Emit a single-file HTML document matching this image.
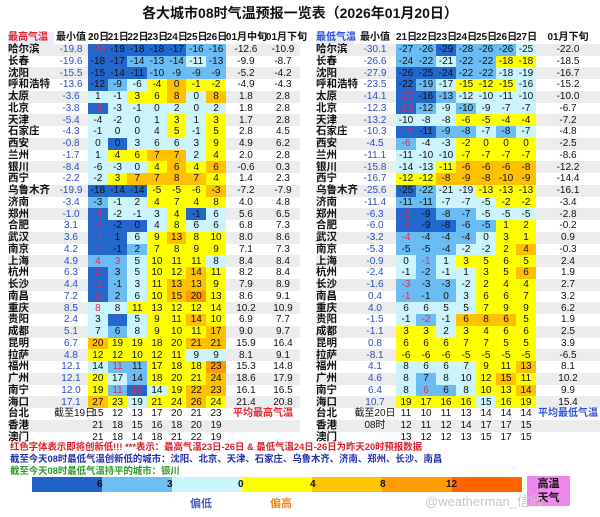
<!DOCTYPE html>
<html><head><meta charset="utf-8">
<style>
*{margin:0;padding:0;box-sizing:border-box}
body{width:600px;height:517px;background:#fff;position:relative;overflow:hidden;font-family:"Liberation Sans","Noto Sans CJK SC",sans-serif;color:#111}
.title{position:absolute;top:3px;left:0;width:600px;text-align:center;font-size:14px;font-weight:bold;line-height:20px}
table{position:absolute;border-collapse:collapse;table-layout:fixed;border-spacing:0}
td{padding:0;text-align:center;font-size:10px;height:11.75px;line-height:11px;white-space:nowrap;overflow:visible}
tr.s td{background:#ececec}
td.n{text-align:left;font-weight:bold;font-size:10.5px}
td.m{color:#2a4fc8}
tr.h td{font-weight:bold;font-size:10px;background:#fff}
tr td.d{background:#2467cc}
tr td.b{background:#6bbcf2}
tr td.c{background:#cbf4fc}
tr td.y{background:#ffff00}
tr td.g{background:#ffc000}
tr td.o{background:#ff9a00}
td.r{color:#e8265a}
.f{position:absolute;left:10px;font-size:9.4px;font-weight:bold;white-space:nowrap;line-height:12px}
.bar{position:absolute;top:477px;height:15px}
.bl{position:absolute;top:477px;font-size:10px;font-weight:bold;line-height:15px}
</style></head><body>
<div class="title">各大城市08时气温预报一览表（2026年01月20日）</div>

<table style="left:8px;top:32px;width:292px">
<colgroup><col style="width:46px"><col style="width:34px"><col style="width:19.7px"><col style="width:19.7px"><col style="width:19.7px"><col style="width:19.7px"><col style="width:19.7px"><col style="width:19.7px"><col style="width:19.8px"><col style="width:40px"><col style="width:34px"></colgroup>
<tr class="h"><td class="n" style="color:#e8202a;background:#e8eef8">最高气温</td><td>最小值</td><td>20日</td><td>21日</td><td>22日</td><td>23日</td><td>24日</td><td>25日</td><td>26日</td><td>01月中旬</td><td>01月下旬</td></tr>
<tr class="s"><td class="n">哈尔滨</td><td class="m">-19.8</td><td class="d r">-20</td><td class="d">-19</td><td class="d">-18</td><td class="d">-18</td><td class="d">-17</td><td class="b">-16</td><td class="b">-16</td><td>-12.6</td><td>-10.9</td></tr>
<tr><td class="n">长春</td><td class="m">-19.6</td><td class="d">-18</td><td class="d">-17</td><td class="b">-14</td><td class="b">-13</td><td class="b">-14</td><td class="c">-11</td><td class="b">-13</td><td>-9.9</td><td>-8.7</td></tr>
<tr class="s"><td class="n">沈阳</td><td class="m">-15.5</td><td class="d">-15</td><td class="d">-14</td><td class="d">-11</td><td class="b">-10</td><td class="b">-9</td><td class="b">-9</td><td class="b">-9</td><td>-5.2</td><td>-4.2</td></tr>
<tr><td class="n">呼和浩特</td><td class="m">-13.6</td><td class="d">-12</td><td class="b">-9</td><td class="c">-6</td><td class="y">-4</td><td class="g">0</td><td class="y">-1</td><td class="y">-2</td><td>-4.9</td><td>-4.3</td></tr>
<tr class="s"><td class="n">太原</td><td class="m">-3.6</td><td class="c">1</td><td class="c">-1</td><td class="y">3</td><td class="y">6</td><td class="g">8</td><td class="c">0</td><td class="g">8</td><td>1.8</td><td>2.8</td></tr>
<tr><td class="n">北京</td><td class="m">-3.8</td><td class="d r">-6</td><td class="c">-3</td><td class="c">-1</td><td class="c">0</td><td class="c">2</td><td class="c">0</td><td class="c">2</td><td>1.8</td><td>2.8</td></tr>
<tr class="s"><td class="n">天津</td><td class="m">-5.4</td><td class="c">-4</td><td class="c">-2</td><td class="c">0</td><td class="c">1</td><td class="y">3</td><td class="c">1</td><td class="y">3</td><td>1.7</td><td>2.8</td></tr>
<tr><td class="n">石家庄</td><td class="m">-4.3</td><td class="c">-1</td><td class="c">0</td><td class="c">0</td><td class="c">4</td><td class="y">5</td><td class="c">-1</td><td class="y">5</td><td>2.8</td><td>4.5</td></tr>
<tr class="s"><td class="n">西安</td><td class="m">-0.8</td><td class="c">0</td><td class="d">0</td><td class="c">3</td><td class="c">6</td><td class="c">6</td><td class="c">3</td><td class="y">9</td><td>4.9</td><td>6.2</td></tr>
<tr><td class="n">兰州</td><td class="m">-1.7</td><td class="c">1</td><td class="y">4</td><td class="y">6</td><td class="g">7</td><td class="g">7</td><td class="c">2</td><td class="y">4</td><td>2.0</td><td>2.8</td></tr>
<tr class="s"><td class="n">银川</td><td class="m">-8.4</td><td class="c">-6</td><td class="c">-3</td><td class="c">0</td><td class="y">4</td><td class="g">6</td><td class="y">4</td><td class="g">6</td><td>-0.6</td><td>0.3</td></tr>
<tr><td class="n">西宁</td><td class="m">-2.2</td><td class="c">-2</td><td class="y">3</td><td class="g">7</td><td class="g">7</td><td class="g">8</td><td class="g">7</td><td class="y">4</td><td>1.4</td><td>2.3</td></tr>
<tr class="s"><td class="n">乌鲁木齐</td><td class="m">-19.9</td><td class="d">-18</td><td class="d">-14</td><td class="d">-14</td><td class="y">-5</td><td class="y">-5</td><td class="y">-6</td><td class="g">-3</td><td>-7.2</td><td>-7.9</td></tr>
<tr><td class="n">济南</td><td class="m">-3.4</td><td class="b">-3</td><td class="c">-1</td><td class="c">2</td><td class="y">4</td><td class="y">7</td><td class="y">4</td><td class="y">8</td><td>4.0</td><td>4.8</td></tr>
<tr class="s"><td class="n">郑州</td><td class="m">-1.0</td><td class="d r">-4</td><td class="c">-2</td><td class="c">-1</td><td class="c">3</td><td class="y">4</td><td class="d">-1</td><td class="c">6</td><td>5.6</td><td>6.5</td></tr>
<tr><td class="n">合肥</td><td class="m">3.1</td><td class="d r">-3</td><td class="d">-2</td><td class="d">0</td><td class="c">4</td><td class="y">8</td><td class="c">6</td><td class="c">6</td><td>6.8</td><td>7.3</td></tr>
<tr class="s"><td class="n">武汉</td><td class="m">3.6</td><td class="d r">-1</td><td class="d">1</td><td class="c">6</td><td class="y">9</td><td class="g">13</td><td class="y">8</td><td class="y">10</td><td>8.0</td><td>8.6</td></tr>
<tr><td class="n">南京</td><td class="m">4.2</td><td class="d r">-1</td><td class="d">-1</td><td class="b">2</td><td class="y">7</td><td class="y">8</td><td class="y">9</td><td class="y">9</td><td>7.1</td><td>7.3</td></tr>
<tr class="s"><td class="n">上海</td><td class="m">4.9</td><td class="b r">4</td><td class="b r">3</td><td class="c">5</td><td class="y">10</td><td class="y">11</td><td class="y">11</td><td class="c">8</td><td>8.4</td><td>8.4</td></tr>
<tr><td class="n">杭州</td><td class="m">6.3</td><td class="d r">2</td><td class="b">3</td><td class="c">5</td><td class="y">10</td><td class="y">12</td><td class="g">14</td><td class="y">11</td><td>8.2</td><td>8.4</td></tr>
<tr class="s"><td class="n">长沙</td><td class="m">4.4</td><td class="d r">-1</td><td class="b">-1</td><td class="c">3</td><td class="y">11</td><td class="g">13</td><td class="g">13</td><td class="y">9</td><td>7.9</td><td>8.9</td></tr>
<tr><td class="n">南昌</td><td class="m">7.2</td><td class="d r">1</td><td class="b">2</td><td class="c">6</td><td class="y">10</td><td class="g">15</td><td class="o">20</td><td class="y">13</td><td>8.6</td><td>9.1</td></tr>
<tr class="s"><td class="n">重庆</td><td class="m">8.5</td><td class="c r">8</td><td class="c">8</td><td class="y">11</td><td class="y">13</td><td class="y">12</td><td class="y">12</td><td class="y">14</td><td>10.2</td><td>10.9</td></tr>
<tr><td class="n">贵阳</td><td class="m">2.4</td><td class="c">3</td><td class="d r">1</td><td class="c">5</td><td class="y">9</td><td class="y">11</td><td class="g">14</td><td class="y">10</td><td>6.9</td><td>7.7</td></tr>
<tr class="s"><td class="n">成都</td><td class="m">5.1</td><td class="c">7</td><td class="b">6</td><td class="c">8</td><td class="y">9</td><td class="y">10</td><td class="y">11</td><td class="g">17</td><td>9.0</td><td>9.7</td></tr>
<tr><td class="n">昆明</td><td class="m">6.7</td><td class="g">20</td><td class="y">19</td><td class="y">19</td><td class="y">18</td><td class="y">20</td><td class="g">21</td><td class="g">21</td><td>15.9</td><td>16.4</td></tr>
<tr class="s"><td class="n">拉萨</td><td class="m">4.8</td><td class="y">12</td><td class="y">12</td><td class="y">10</td><td class="y">12</td><td class="y">11</td><td class="c">9</td><td class="c">9</td><td>8.1</td><td>9.1</td></tr>
<tr><td class="n">福州</td><td class="m">12.1</td><td class="c">14</td><td class="b r">11</td><td class="b">11</td><td class="y">17</td><td class="y">18</td><td class="y">18</td><td class="o">23</td><td>15.3</td><td>14.8</td></tr>
<tr class="s"><td class="n">广州</td><td class="m">12.1</td><td class="y">20</td><td class="c">17</td><td class="b">14</td><td class="y">18</td><td class="y">20</td><td class="y">21</td><td class="g">24</td><td>18.6</td><td>17.9</td></tr>
<tr><td class="n">南宁</td><td class="m">12.0</td><td class="y">19</td><td class="b r">11</td><td class="d r">10</td><td class="c">14</td><td class="y">19</td><td class="g">22</td><td class="g">23</td><td>16.1</td><td>16.5</td></tr>
<tr class="s"><td class="n">海口</td><td class="m">17.1</td><td class="g">27</td><td class="y">23</td><td class="c">19</td><td class="y">21</td><td class="y">24</td><td class="g">26</td><td class="y">24</td><td>21.4</td><td>20.8</td></tr>
<tr><td class="n">台北</td><td>截至19日</td><td>15</td><td>12</td><td>13</td><td>17</td><td>20</td><td>21</td><td>23</td><td colspan="2" style="color:#e8202a;font-weight:bold">平均最高气温</td></tr>
<tr class="s"><td class="n">香港</td><td></td><td>21</td><td>18</td><td>15</td><td>16</td><td>18</td><td>20</td><td>19</td><td></td><td></td></tr>
<tr><td class="n">澳门</td><td></td><td>21</td><td>18</td><td>14</td><td>18</td><td>21</td><td>22</td><td>19</td><td></td><td></td></tr>
</table>

<table style="left:316px;top:32px;width:284px">
<colgroup><col style="width:38px"><col style="width:42px"><col style="width:20px"><col style="width:20px"><col style="width:20px"><col style="width:20px"><col style="width:20px"><col style="width:20px"><col style="width:20px"><col style="width:64px"></colgroup>
<tr class="h"><td class="n" style="color:#2a4fd8;background:#e8eef8">最低气温</td><td>最小值</td><td>21日</td><td>22日</td><td>23日</td><td>24日</td><td>25日</td><td>26日</td><td>27日</td><td>01月下旬</td></tr>
<tr class="s"><td class="n">哈尔滨</td><td class="m">-30.1</td><td class="b">-27</td><td class="b">-26</td><td class="d">-29</td><td class="b">-28</td><td class="b">-26</td><td class="b">-26</td><td class="c">-25</td><td>-22.0</td></tr>
<tr><td class="n">长春</td><td class="m">-26.6</td><td class="b">-24</td><td class="b">-22</td><td class="c">-21</td><td class="b">-22</td><td class="b">-22</td><td class="y">-18</td><td class="y">-18</td><td>-18.5</td></tr>
<tr class="s"><td class="n">沈阳</td><td class="m">-27.9</td><td class="d">-26</td><td class="d">-25</td><td class="d">-24</td><td class="b">-22</td><td class="b">-22</td><td class="c">-18</td><td class="c">-19</td><td>-16.7</td></tr>
<tr><td class="n">呼和浩特</td><td class="m">-23.5</td><td class="d">-22</td><td class="b">-19</td><td class="c">-17</td><td class="y">-15</td><td class="y">-12</td><td class="y">-15</td><td class="c">-16</td><td>-15.2</td></tr>
<tr class="s"><td class="n">太原</td><td class="m">-14.1</td><td class="d r">-17</td><td class="d">-16</td><td class="b">-13</td><td class="c">-12</td><td class="c">-10</td><td class="c">-11</td><td class="c">-10</td><td>-10.0</td></tr>
<tr><td class="n">北京</td><td class="m">-12.3</td><td class="d r">-13</td><td class="b">-12</td><td class="c">-9</td><td class="b">-10</td><td class="c">-9</td><td class="c">-7</td><td class="c">-7</td><td>-6.7</td></tr>
<tr class="s"><td class="n">天津</td><td class="m">-13.2</td><td class="c">-10</td><td class="c">-8</td><td class="c">-8</td><td class="y">-6</td><td class="y">-5</td><td class="y">-4</td><td class="y">-4</td><td>-7.2</td></tr>
<tr><td class="n">石家庄</td><td class="m">-10.3</td><td class="d r">-11</td><td class="d">-11</td><td class="b">-9</td><td class="b">-8</td><td class="c">-7</td><td class="b">-8</td><td class="c">-7</td><td>-4.8</td></tr>
<tr class="s"><td class="n">西安</td><td class="m">-4.5</td><td class="b r">-6</td><td class="c">-4</td><td class="c">-3</td><td class="y">-2</td><td class="y">0</td><td class="y">0</td><td class="y">0</td><td>-2.5</td></tr>
<tr><td class="n">兰州</td><td class="m">-11.1</td><td class="c">-11</td><td class="c">-10</td><td class="c">-10</td><td class="y">-7</td><td class="y">-7</td><td class="y">-7</td><td class="y">-7</td><td>-8.6</td></tr>
<tr class="s"><td class="n">银川</td><td class="m">-15.8</td><td class="c">-14</td><td class="c">-13</td><td class="y">-11</td><td class="g">-6</td><td class="g">-6</td><td class="g">-6</td><td class="g">-8</td><td>-12.2</td></tr>
<tr><td class="n">西宁</td><td class="m">-16.7</td><td class="y">-12</td><td class="y">-12</td><td class="g">-8</td><td class="g">-9</td><td class="g">-8</td><td class="g">-10</td><td class="g">-9</td><td>-14.4</td></tr>
<tr class="s"><td class="n">乌鲁木齐</td><td class="m">-25.6</td><td class="d">-25</td><td class="b">-22</td><td class="c">-21</td><td class="c">-19</td><td class="y">-13</td><td class="y">-13</td><td class="y">-13</td><td>-16.1</td></tr>
<tr><td class="n">济南</td><td class="m">-11.4</td><td class="b">-11</td><td class="b">-11</td><td class="c">-7</td><td class="c">-7</td><td class="c">-5</td><td class="y">-2</td><td class="y">-2</td><td>-3.4</td></tr>
<tr class="s"><td class="n">郑州</td><td class="m">-6.3</td><td class="d r">-9</td><td class="d">-9</td><td class="b">-8</td><td class="b">-7</td><td class="c">-5</td><td class="c">-5</td><td class="c">-5</td><td>-2.8</td></tr>
<tr><td class="n">合肥</td><td class="m">-6.0</td><td class="d r">-9</td><td class="d">-9</td><td class="d">-8</td><td class="b">-6</td><td class="b">-5</td><td class="y">1</td><td class="y">2</td><td>-0.2</td></tr>
<tr class="s"><td class="n">武汉</td><td class="m">-3.2</td><td class="b r">-4</td><td class="b">-4</td><td class="b">-4</td><td class="b">-4</td><td class="c">0</td><td class="y">3</td><td class="y">1</td><td>0.9</td></tr>
<tr><td class="n">南京</td><td class="m">-5.3</td><td class="b">-5</td><td class="b">-5</td><td class="b">-4</td><td class="c">-2</td><td class="c">-2</td><td class="y">2</td><td class="g">4</td><td>-0.3</td></tr>
<tr class="s"><td class="n">上海</td><td class="m">-0.9</td><td class="c">0</td><td class="b r">-1</td><td class="c">1</td><td class="y">3</td><td class="y">5</td><td class="y">6</td><td class="y">5</td><td>2.4</td></tr>
<tr><td class="n">杭州</td><td class="m">-2.4</td><td class="c">-1</td><td class="b">-2</td><td class="c">-1</td><td class="c">1</td><td class="y">3</td><td class="y">5</td><td class="g">6</td><td>1.9</td></tr>
<tr class="s"><td class="n">长沙</td><td class="m">-1.6</td><td class="b r">-3</td><td class="b">-3</td><td class="b">-3</td><td class="c">-2</td><td class="y">2</td><td class="y">4</td><td class="y">4</td><td>2.7</td></tr>
<tr><td class="n">南昌</td><td class="m">0.4</td><td class="b r">-1</td><td class="b">-1</td><td class="b">0</td><td class="c">3</td><td class="y">6</td><td class="y">6</td><td class="y">7</td><td>3.2</td></tr>
<tr class="s"><td class="n">重庆</td><td class="m">4.0</td><td class="c">6</td><td class="c">6</td><td class="c">5</td><td class="c">5</td><td class="y">7</td><td class="y">9</td><td class="y">9</td><td>6.2</td></tr>
<tr><td class="n">贵阳</td><td class="m">-1.5</td><td class="c">-1</td><td class="b r">-2</td><td class="c">-1</td><td class="g">6</td><td class="g">8</td><td class="g">6</td><td class="y">5</td><td>1.9</td></tr>
<tr class="s"><td class="n">成都</td><td class="m">-1.1</td><td class="y">3</td><td class="y">3</td><td class="c">2</td><td class="y">3</td><td class="y">4</td><td class="y">6</td><td class="y">6</td><td>2.5</td></tr>
<tr><td class="n">昆明</td><td class="m">0.8</td><td class="y">6</td><td class="y">6</td><td class="y">6</td><td class="y">7</td><td class="y">7</td><td class="y">5</td><td class="y">5</td><td>3.9</td></tr>
<tr class="s"><td class="n">拉萨</td><td class="m">-8.1</td><td class="y">-6</td><td class="y">-6</td><td class="y">-6</td><td class="y">-5</td><td class="y">-5</td><td class="y">-5</td><td class="y">-5</td><td>-6.5</td></tr>
<tr><td class="n">福州</td><td class="m">4.1</td><td class="c">8</td><td class="c">6</td><td class="c">6</td><td class="c">7</td><td class="y">9</td><td class="y">11</td><td class="g">13</td><td>8.1</td></tr>
<tr class="s"><td class="n">广州</td><td class="m">4.6</td><td class="c">8</td><td class="b">7</td><td class="c">8</td><td class="c">10</td><td class="y">12</td><td class="g">15</td><td class="y">11</td><td>10.2</td></tr>
<tr><td class="n">南宁</td><td class="m">6.4</td><td class="c">8</td><td class="b r">6</td><td class="b">6</td><td class="c">8</td><td class="y">10</td><td class="y">13</td><td class="g">14</td><td>9.9</td></tr>
<tr class="s"><td class="n">海口</td><td class="m">10.7</td><td class="y">19</td><td class="y">17</td><td class="y">16</td><td class="y">16</td><td class="c">15</td><td class="y">16</td><td class="y">19</td><td>15.4</td></tr>
<tr><td class="n">台北</td><td>截至20日</td><td>11</td><td>10</td><td>11</td><td>13</td><td>14</td><td>14</td><td>14</td><td style="color:#2a4fd8;font-weight:bold">平均最低气温</td></tr>
<tr class="s"><td class="n">香港</td><td>08时</td><td>12</td><td>11</td><td>12</td><td>14</td><td>17</td><td>17</td><td>15</td><td></td></tr>
<tr><td class="n">澳门</td><td></td><td>13</td><td>12</td><td>12</td><td>13</td><td>15</td><td>17</td><td>15</td><td></td></tr>
</table>

<div class="f" style="top:441px;color:#d8202a">红色字体表示即将创新低!!! ***表示：最高气温23日-26日 &amp; 最低气温24日-26日为昨天20时预报数据</div>
<div class="f" style="top:453px;color:#2030b0">截至今天08时最低气温创新低的城市：沈阳、北京、天津、石家庄、乌鲁木齐、济南、郑州、长沙、南昌</div>
<div class="f" style="top:465px;color:#2a9a2a">截至今天08时最低气温持平的城市：银川</div>

<div class="bar" style="left:32px;width:70px;background:#1f63c8"></div>
<div class="bar" style="left:102px;width:70px;background:#6cc0f4"></div>
<div class="bar" style="left:172px;width:70px;background:#c8f6fc"></div>
<div class="bar" style="left:242px;width:70px;background:#ffff00"></div>
<div class="bar" style="left:312px;width:70px;background:#ffc400"></div>
<div class="bar" style="left:382px;width:70px;background:#ff9c00"></div>
<div class="bar" style="left:452px;width:70px;background:#ff6400"></div>
<div class="bl" style="left:97px">6</div>
<div class="bl" style="left:167px">3</div>
<div class="bl" style="left:238px">0</div>
<div class="bl" style="left:310px">4</div>
<div class="bl" style="left:380px">8</div>
<div class="bl" style="left:446px">12</div>
<div style="position:absolute;left:190px;top:495px;font-size:11px;font-weight:bold;color:#4a5cc8">偏低</div>
<div style="position:absolute;left:270px;top:495px;font-size:11px;font-weight:bold;color:#f08a20">偏高</div>
<div style="position:absolute;left:527px;top:476px;width:43px;height:30px;background:#ee88ee;font-size:11px;font-weight:bold;text-align:center;line-height:14px;padding-top:1px">高温<br>天气</div>
<div style="position:absolute;left:425px;top:491px;font-size:13px;color:#c8c8c8">@weatherman_信欣</div>
</body></html>
